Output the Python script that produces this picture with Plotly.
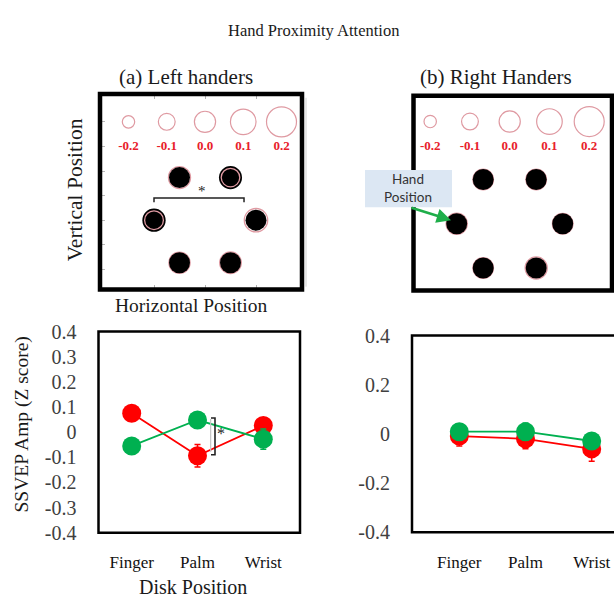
import plotly.graph_objects as go

W, H = 614, 610

# ---------------- SSVEP amplitude by disk position ----------------
disk_positions = ["Finger", "Palm", "Wrist"]

left_red = [0.075, -0.094, 0.026]
left_red_err = [0.015, 0.045, 0.02]
left_green = [-0.055, 0.048, -0.028]
left_green_err = [0.015, 0.025, 0.04]

right_red = [-0.009, -0.02, -0.061]
right_red_err = [0.04, 0.04, 0.05]
right_green = [0.009, 0.009, -0.029]
right_green_err = [0.02, 0.035, 0.02]

left_yticks = [-0.4, -0.3, -0.2, -0.1, 0, 0.1, 0.2, 0.3, 0.4]
left_yticktext = ["-0.4", "-0.3", "-0.2", "-0.1", "0", "0.1", "0.2", "0.3", "0.4"]
right_yticks = [-0.4, -0.2, 0, 0.2, 0.4]
right_yticktext = ["-0.4", "-0.2", "0", "0.2", "0.4"]

# ---------------- disk display (hexagon of six disks) ----------------
scale_values = [-0.2, -0.1, 0.0, 0.1, 0.2]
scale_labels = ["-0.2", "-0.1", "0.0", "0.1", "0.2"]
scale_x = [-1.5, -0.75, 0.0, 0.75, 1.5]
disk_x = [-0.5, 0.5, -1.0, 1.0, -0.5, 0.5]
disk_y = [0.866, 0.866, 0.0, 0.0, -0.866, -0.866]
left_disk_amp = [0.02, -0.06, -0.055, 0.05, 0.0, 0.01]
right_disk_amp = [-0.015, -0.015, 0.0, -0.015, -0.015, 0.02]

RED = "#ff0000"
GREEN = "#00b050"
PINK = "#df9aa2"
LABEL_RED = "#e8202a"
SERIF = "Liberation Serif, Times New Roman, serif"


def px(x):
    return x / W


def py(y):
    return 1 - y / H


def ring_px(v):
    """Diameter (px) of the amplitude ring for a z-scored value."""
    return 21.2 + 44 * v


def disk_panel(amps, xa, ya):
    traces = []
    traces.append(go.Scatter(
        x=scale_x, y=[2.0] * len(scale_x), mode="markers",
        marker=dict(symbol="circle-open", size=[ring_px(v) for v in scale_values],
                    color=PINK, opacity=1, line=dict(color=PINK, width=1.2)),
        xaxis=xa, yaxis=ya, hoverinfo="skip"))
    traces.append(go.Scatter(
        x=scale_x, y=[1.5] * len(scale_x), mode="text", text=scale_labels,
        textposition="middle center",
        textfont=dict(family=SERIF, size=13, color=LABEL_RED, weight="bold"),
        xaxis=xa, yaxis=ya, hoverinfo="skip"))

    rings = [ring_px(v) for v in amps]
    inner = [r < 20 for r in rings]
    black = [r + 4.5 if i else 21 for r, i in zip(rings, inner)]

    ox = [x for x, i in zip(disk_x, inner) if not i]
    oy = [y for y, i in zip(disk_y, inner) if not i]
    osz = [r for r, i in zip(rings, inner) if not i]
    ix = [x for x, i in zip(disk_x, inner) if i]
    iy = [y for y, i in zip(disk_y, inner) if i]
    isz = [r for r, i in zip(rings, inner) if i]

    traces.append(go.Scatter(
        x=ox, y=oy, mode="markers",
        marker=dict(symbol="circle-open", size=osz, color=PINK, opacity=1,
                    line=dict(color=PINK, width=1.3)),
        xaxis=xa, yaxis=ya, hoverinfo="skip"))
    traces.append(go.Scatter(
        x=disk_x, y=disk_y, mode="markers",
        marker=dict(symbol="circle", size=black, color="black", opacity=1,
                    line=dict(width=0)),
        xaxis=xa, yaxis=ya, hoverinfo="skip"))
    traces.append(go.Scatter(
        x=ix, y=iy, mode="markers",
        marker=dict(symbol="circle-open", size=isz, color=PINK, opacity=1,
                    line=dict(color=PINK, width=1.3)),
        xaxis=xa, yaxis=ya, hoverinfo="skip"))
    return traces


def result_traces(red, red_err, green, green_err, xa, ya):
    xs = list(range(len(disk_positions)))
    out = []
    for vals, errs, col in [(red, red_err, RED), (green, green_err, GREEN)]:
        out.append(go.Scatter(
            x=xs, y=vals, mode="lines+markers",
            line=dict(color=col, width=1.8),
            marker=dict(size=19, color=col, opacity=1, line=dict(width=0)),
            error_y=dict(type="data", array=errs, color=col,
                         thickness=1.5, width=3),
            xaxis=xa, yaxis=ya, hoverinfo="skip"))
    return out


fig = go.Figure()
for t in disk_panel(left_disk_amp, "x", "y"):
    fig.add_trace(t)
for t in disk_panel(right_disk_amp, "x2", "y2"):
    fig.add_trace(t)
for t in result_traces(left_red, left_red_err, left_green, left_green_err, "x3", "y3"):
    fig.add_trace(t)
for t in result_traces(right_red, right_red_err, right_green, right_green_err, "x4", "y4"):
    fig.add_trace(t)

# ---------------- panel geometry (pixels) ----------------
TL = dict(l=100, r=302, t=86, b=289, cx=205, cy=217, R=51)
TR = dict(l=413.5, r=612, t=88, b=290, cx=509.7, cy=220.7, R=53)
BL = dict(l=98.5, r=300, t=332.5, b=541.2, x0=131.7, unit=65.8)
BR = dict(l=412, r=614, t=336.7, b=540.7, x0=459.3, unit=66.2)


def hex_axes(g):
    xr = [(g["l"] - g["cx"]) / g["R"], (g["r"] - g["cx"]) / g["R"]]
    yr = [(g["cy"] - g["b"]) / g["R"], (g["cy"] - g["t"]) / g["R"]]
    return xr, yr


tl_x, tl_y = hex_axes(TL)
tr_x, tr_y = hex_axes(TR)

blank = dict(showgrid=False, zeroline=False, showticklabels=False, fixedrange=True)

fig.update_layout(
    xaxis=dict(domain=[px(TL["l"]), px(TL["r"])], range=tl_x, anchor="y",
               tickvals=[-1, 0, 1], ticks="inside", ticklen=5, tickcolor="#b0b0b0",
               showline=True, linecolor="#c8c8c8", mirror="ticks", **blank),
    yaxis=dict(domain=[py(TL["b"]), py(TL["t"])], range=tl_y, anchor="x",
               tickvals=[-1, -0.5, 0, 0.5, 1, 1.5, 2], ticks="inside", ticklen=5,
               tickcolor="#b8b8b8", showline=False, **blank),
    xaxis2=dict(domain=[px(TR["l"]), px(TR["r"])], range=tr_x, anchor="y2",
                showline=False, ticks="", **blank),
    yaxis2=dict(domain=[py(TR["b"]), py(TR["t"])], range=tr_y, anchor="x2",
                showline=False, ticks="", **blank),
    xaxis3=dict(domain=[px(BL["l"]), px(BL["r"])],
                range=[(BL["l"] - BL["x0"]) / BL["unit"], (BL["r"] - BL["x0"]) / BL["unit"]],
                anchor="y3", tickvals=[0, 1, 2], ticktext=disk_positions,
                ticks="outside", ticklen=14, tickcolor="rgba(0,0,0,0)",
                tickfont=dict(family=SERIF, size=17, color="#111"),
                showgrid=False, zeroline=False, showline=False, fixedrange=True),
    yaxis3=dict(domain=[py(BL["b"]), py(BL["t"])], range=[-0.4, 0.4], anchor="x3",
                tickvals=left_yticks, ticktext=left_yticktext,
                ticks="outside", ticklen=17, tickcolor="rgba(0,0,0,0)",
                tickfont=dict(family=SERIF, size=20, color="#404040"),
                showgrid=False, zeroline=False, showline=False, fixedrange=True),
    xaxis4=dict(domain=[px(BR["l"]), px(BR["r"])],
                range=[(BR["l"] - BR["x0"]) / BR["unit"], (BR["r"] - BR["x0"]) / BR["unit"]],
                anchor="y4", tickvals=[0, 1, 2], ticktext=disk_positions,
                ticks="outside", ticklen=14, tickcolor="rgba(0,0,0,0)",
                tickfont=dict(family=SERIF, size=17, color="#111"),
                showgrid=False, zeroline=False, showline=False, fixedrange=True),
    yaxis4=dict(domain=[py(BR["b"]), py(BR["t"])], range=[-0.4, 0.4], anchor="x4",
                tickvals=right_yticks, ticktext=right_yticktext,
                ticks="outside", ticklen=17, tickcolor="rgba(0,0,0,0)",
                tickfont=dict(family=SERIF, size=20, color="#404040"),
                showgrid=False, zeroline=False, showline=False, fixedrange=True),
)

shapes = []


def box(g, width, x1=None):
    return dict(type="rect", xref="paper", yref="paper",
                x0=px(g["l"]), x1=px(x1 if x1 is not None else g["r"]),
                y0=py(g["b"]), y1=py(g["t"]),
                line=dict(color="black", width=width), fillcolor="rgba(0,0,0,0)",
                layer="above")


# thin secondary axis line beside the left disk display
shapes.append(dict(type="line", xref="paper", yref="paper",
                   x0=px(306), x1=px(306), y0=py(90), y1=py(286),
                   line=dict(color="#cfcfcf", width=1)))
shapes.append(box(TL, 4.5))
shapes.append(box(TR, 4.5))
shapes.append(box(BL, 2.5))
shapes.append(box(BR, 2.5, x1=618))

# significance bracket between the two middle-row disks (left handers)
shapes.append(dict(type="path", xref="x", yref="y",
                   path="M -1,0.367 L -1,0.45 L 0.765,0.45 L 0.765,0.367",
                   line=dict(color="#222", width=1.5)))

# significance bracket at the Palm position (left handers)
top_v = left_green[1] + 0.008
bot_v = left_red[1] + 0.004
shapes.append(dict(type="line", xref="x3", yref="y3", x0=1.2, x1=1.2,
                   y0=bot_v + 0.012, y1=top_v - 0.004,
                   line=dict(color="#c4c4c4", width=1.2)))
shapes.append(dict(type="path", xref="x3", yref="y3",
                   path=f"M 1.205,{top_v} L 1.266,{top_v} L 1.266,{bot_v} L 1.205,{bot_v}",
                   line=dict(color="#222", width=1.6)))

# callout box behind the "Hand Position" label
shapes.append(dict(type="rect", xref="paper", yref="paper",
                   x0=px(365), x1=px(452), y0=py(203.5), y1=py(165),
                   line=dict(width=0), fillcolor="#dce7f3", layer="above"))

annotations = []


def text(x, y, s, size, angle=0, family=SERIF, color="#1a1a1a"):
    annotations.append(dict(x=px(x), y=py(y), xref="paper", yref="paper",
                            text=s, showarrow=False, textangle=angle,
                            xanchor="center", yanchor="middle",
                            font=dict(family=family, size=size, color=color)))


text(313, 20, "Hand Proximity Attention", 16.5)
text(186, 68, "(a) Left handers", 21)
text(496, 68, "(b) Right Handers", 21)
text(75, 186, "Vertical Position", 21.5, angle=-90)
text(191, 306, "Horizontal Position", 19.5)
text(22, 429, "SSVEP Amp (Z score)", 19.5, angle=-90)
text(193, 598, "Disk Position", 20)
text(408, 184, "Hand<br>Position", 13.5, family="Lato, Open Sans, sans-serif", color="#333")

annotations.append(dict(x=-0.065, y=0.6, xref="x", yref="y", text="*",
                        showarrow=False, font=dict(family=SERIF, size=15, color="#222")))
annotations.append(dict(x=1.353, y=-0.005, xref="x3", yref="y3", text="*",
                        showarrow=False, font=dict(family=SERIF, size=16, color="#222")))

# arrow pointing at the disk closest to the hand
annotations.append(dict(x=px(451), y=py(217), xref="paper", yref="paper",
                        ax=-41, ay=-13, axref="pixel", ayref="pixel", text="",
                        showarrow=True, arrowhead=2, arrowsize=1.1, arrowwidth=2.6,
                        arrowcolor="#1fae4a"))

fig.update_layout(
    width=W, height=H,
    margin=dict(l=0, r=0, t=0, b=0),
    paper_bgcolor="white", plot_bgcolor="rgba(0,0,0,0)",
    showlegend=False,
    shapes=shapes,
    annotations=annotations,
)

fig.write_html("out.html")
